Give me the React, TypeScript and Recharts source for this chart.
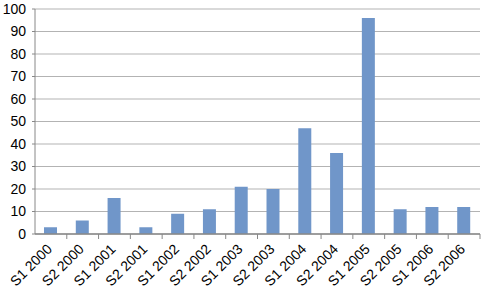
import { Bar, BarChart, CartesianGrid, XAxis, YAxis } from "recharts";

const categories = [
  "S1 2000", "S2 2000", "S1 2001", "S2 2001", "S1 2002", "S2 2002", "S1 2003",
  "S2 2003", "S1 2004", "S2 2004", "S1 2005", "S2 2005", "S1 2006", "S2 2006",
];
const values = [3, 6, 16, 3, 9, 11, 21, 20, 47, 36, 96, 11, 12, 12];
const yTicks = [0, 10, 20, 30, 40, 50, 60, 70, 80, 90, 100];

const data = categories.map((name, i) => ({ name, value: values[i] }));

const FONT = "'Liberation Sans', Arial, sans-serif";
const HALF_BAND = (480 - 35) / categories.length / 2;

function XTick(props: any) {
  const { x, y, payload } = props;
  return (
    <g>
      <line x1={x + HALF_BAND} y1={y - 8} x2={x + HALF_BAND} y2={y - 3} stroke="#888" />
      <text
        x={x + 2}
        y={y + 8}
        textAnchor="end"
        fontSize={14}
        fontFamily={FONT}
        fill="#000"
        transform={`rotate(-45, ${x + 2}, ${y + 8})`}
      >
        {payload.value}
      </text>
    </g>
  );
}

export default function App() {
  return (
    <div style={{ position: "absolute", left: 0, top: 0, background: "#fff" }}>
      <BarChart
        width={485}
        height={294}
        data={data}
        margin={{ top: 9, right: 5, left: 0, bottom: 0 }}
        barSize={13}
      >
        <CartesianGrid vertical={false} stroke="#b3b3b3" />
        <XAxis
          dataKey="name"
          height={60}
          interval={0}
          tickLine={false}
          axisLine={{ stroke: "#888", strokeWidth: 1.5 }}
          tick={<XTick />}
        />
        <YAxis
          width={35}
          domain={[0, 100]}
          ticks={yTicks}
          interval={0}
          tickSize={3}
          tickLine={{ stroke: "#888" }}
          axisLine={{ stroke: "#888" }}
          tick={{ fill: "#000", fontSize: 14, fontFamily: FONT }}
          tickMargin={6}
        />
        <Bar dataKey="value" fill="#7096c9" isAnimationActive={false} />
      </BarChart>
    </div>
  );
}
